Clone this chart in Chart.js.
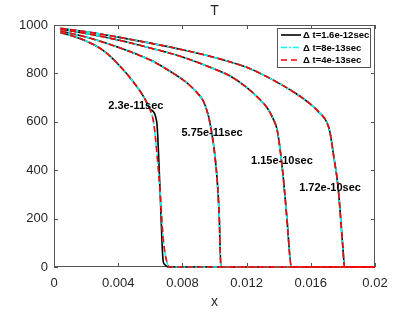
<!DOCTYPE html>
<html>
<head>
<meta charset="utf-8">
<script src="https://cdn.jsdelivr.net/npm/chart.js@4.4.0/dist/chart.umd.min.js"></script>
<style>
  body { margin: 0; background: #fff; }
  #wrap { width: 415px; height: 312px; }
</style>
</head>
<body>
<div id="wrap"><canvas id="myChart" width="415" height="312"></canvas></div>
<script>
// series names
var seriesNames = ['\u0394 t=1.6e-12sec', '\u0394 t=8e-13sec', '\u0394 t=4e-13sec'];
var curveLabels = ['2.3e-11sec', '5.75e-11sec', '1.15e-10sec', '1.72e-10sec'];
var xTicks = [0, 0.004, 0.008, 0.012, 0.016, 0.02];
var yTicks = [0, 200, 400, 600, 800, 1000];

// curve 1 (2.3e-11 sec)
var x1 = [0.0004, 0.001, 0.002, 0.003, 0.004, 0.005, 0.0056, 0.006, 0.0062, 0.0064, 0.0066, 0.0068, 0.007, 0.0072, 0.02];
var t1 = [968, 958, 934, 898, 838, 760, 702, 648, 600, 480, 320, 120, 30, 0, 0];
var x1b = [0.0004, 0.001, 0.002, 0.003, 0.004, 0.005, 0.0056, 0.006, 0.0064, 0.0066, 0.0068, 0.0069, 0.0071, 0.02];
var t1b = [968, 958, 934, 898, 838, 760, 702, 652, 600, 330, 25, 10, 0, 0];

// curve 2 (5.75e-11 sec)
var x2 = [0.0004, 0.002, 0.004, 0.006, 0.007, 0.008, 0.0085, 0.009, 0.0093, 0.0096, 0.0098, 0.01, 0.0102, 0.0103, 0.0104, 0.02];
var t2 = [975, 950, 908, 855, 818, 775, 748, 714, 686, 630, 565, 475, 330, 200, 0, 0];

// curve 3 (1.15e-10 sec)
var x3 = [0.0004, 0.002, 0.004, 0.006, 0.008, 0.01, 0.011, 0.012, 0.0128, 0.0133, 0.0137, 0.0139, 0.0141, 0.0143, 0.0145, 0.0148, 0.02];
var t3 = [983, 965, 938, 905, 868, 818, 788, 742, 694, 656, 606, 568, 480, 360, 210, 0, 0];

// curve 4 (1.72e-10 sec)
var x4 = [0.0004, 0.002, 0.004, 0.006, 0.008, 0.01, 0.012, 0.013, 0.014, 0.015, 0.016, 0.0165, 0.017, 0.0172, 0.0174, 0.0177, 0.018, 0.0181, 0.02];
var t4 = [986, 972, 950, 925, 898, 866, 825, 795, 760, 720, 672, 640, 598, 555, 470, 330, 80, 0, 0];

// where the curve labels sit (data coords)
var labelX = [0.0051, 0.00985, 0.0142, 0.0172];
var labelT = [665, 554, 438, 326];

function pts(xs, ts) {
  return xs.map(function (x, i) { return { x: x, y: ts[i] }; });
}

var curves = [
  { black: pts(x1b, t1b), other: pts(x1, t1) },
  { black: pts(x2, t2), other: pts(x2, t2) },
  { black: pts(x3, t3), other: pts(x3, t3) },
  { black: pts(x4, t4), other: pts(x4, t4) }
];

var styles = [
  { color: '#000000', dash: [] },
  { color: '#00ffff', dash: [6, 2, 2, 2] },
  { color: '#ff0000', dash: [6, 4] }
];

var datasets = [];
styles.forEach(function (st, s) {
  curves.forEach(function (c, k) {
    datasets.push({
      label: seriesNames[s],
      data: s === 0 ? c.black : c.other,
      borderColor: st.color,
      borderDash: st.dash,
      borderWidth: 1.6,
      pointRadius: 0,
      fill: false,
      cubicInterpolationMode: 'monotone',
      order: 2 - s,
      clip: 4
    });
  });
});

var axisColor = '#555';
var textColor = '#262626';

var decor = {
  id: 'decor',
  beforeDatasetsDraw: function (chart) {
    var ctx = chart.ctx;
    var a = chart.chartArea;
    var xs = chart.scales.x, ys = chart.scales.y;
    ctx.save();
    // box + inward ticks
    ctx.strokeStyle = axisColor;
    ctx.lineWidth = 1;
    ctx.setLineDash([]);
    ctx.strokeRect(a.left + 0.5, a.top + 0.5, a.right - a.left - 1, a.bottom - a.top - 1);
    ctx.beginPath();
    xTicks.forEach(function (v) {
      var px = Math.round(xs.getPixelForValue(v)) + 0.5;
      ctx.moveTo(px, a.bottom); ctx.lineTo(px, a.bottom - 4);
      ctx.moveTo(px, a.top); ctx.lineTo(px, a.top + 4);
    });
    yTicks.forEach(function (v) {
      var py = Math.round(ys.getPixelForValue(v)) + 0.5;
      ctx.moveTo(a.left, py); ctx.lineTo(a.left + 4, py);
      ctx.moveTo(a.right, py); ctx.lineTo(a.right - 4, py);
    });
    ctx.stroke();
    ctx.restore();
  },
  afterDraw: function (chart) {
    var ctx = chart.ctx;
    var a = chart.chartArea;
    var xs = chart.scales.x, ys = chart.scales.y;
    ctx.save();
    // title and x label
    ctx.fillStyle = textColor;
    ctx.textAlign = 'center';
    ctx.textBaseline = 'middle';
    ctx.font = '14px "Liberation Sans", Arial, sans-serif';
    ctx.fillText('T', (a.left + a.right) / 2, 11);
    ctx.fillText('x', (a.left + a.right) / 2, 302);

    // curve labels
    ctx.fillStyle = '#000';
    ctx.font = 'bold 11px "Liberation Sans", Arial, sans-serif';
    curveLabels.forEach(function (txt, i) {
      ctx.fillText(txt, xs.getPixelForValue(labelX[i]), ys.getPixelForValue(labelT[i]));
    });

    // legend box
    var lx = 277, ly = 28, lw = 93, lh = 39;
    ctx.fillStyle = '#fff';
    ctx.fillRect(lx, ly, lw, lh);
    ctx.strokeStyle = axisColor;
    ctx.lineWidth = 1;
    ctx.strokeRect(lx + 0.5, ly + 0.5, lw, lh);
    ctx.font = 'bold 9.5px "Liberation Sans", Arial, sans-serif';
    ctx.textAlign = 'left';
    styles.forEach(function (st, s) {
      var yy = ly + 7 + s * 12.5;
      ctx.strokeStyle = st.color;
      ctx.setLineDash(st.dash);
      ctx.lineWidth = 1.6;
      ctx.beginPath();
      ctx.moveTo(lx + 4, yy); ctx.lineTo(lx + 24, yy);
      ctx.stroke();
      ctx.setLineDash([]);
      ctx.fillStyle = '#000';
      ctx.fillText(seriesNames[s], lx + 26, yy + 0.5);
    });
    ctx.restore();
  }
};

var ctx = document.getElementById('myChart');
var myChart = new Chart(ctx, {
  type: 'line',
  data: { datasets: datasets },
  options: {
    responsive: false,
    animation: false,
    layout: { padding: { left: 0, right: 40, top: 25, bottom: 0 } },
    plugins: { legend: { display: false }, tooltip: { enabled: false } },
    scales: {
      x: {
        type: 'linear', min: 0, max: 0.02,
        afterBuildTicks: function (s) { s.ticks = xTicks.map(function (v) { return { value: v }; }); },
        afterFit: function (s) { s.height = 45; },
        grid: { display: false, drawTicks: false },
        border: { display: false },
        ticks: {
          color: textColor, padding: 9,
          font: { size: 13, family: '"Liberation Sans", Arial, sans-serif' },
          callback: function (v) { return String(v); },
          maxRotation: 0
        }
      },
      y: {
        type: 'linear', min: 0, max: 1000,
        afterBuildTicks: function (s) { s.ticks = yTicks.map(function (v) { return { value: v }; }); },
        afterFit: function (s) { s.width = 54; },
        grid: { display: false, drawTicks: false },
        border: { display: false },
        ticks: {
          color: textColor, padding: 6,
          font: { size: 13, family: '"Liberation Sans", Arial, sans-serif' },
          callback: function (v) { return String(v); }
        }
      }
    }
  },
  plugins: [decor]
});
</script>
</body>
</html>
